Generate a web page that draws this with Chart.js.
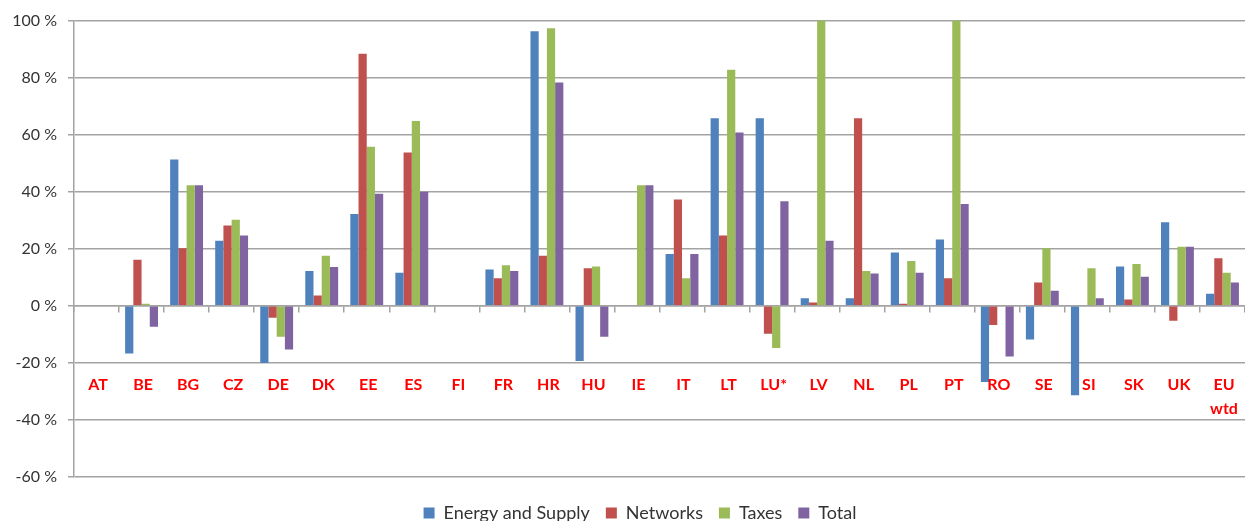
<!DOCTYPE html>
<html><head><meta charset="utf-8">
<script src="https://cdn.jsdelivr.net/npm/chart.js@4"></script>
<style>html,body{margin:0;padding:0;background:#fff;} #wrap{width:1245px;height:521px;position:relative;overflow:hidden;}</style>
</head><body><div id="wrap"><canvas id="c" width="1245" height="521"></canvas></div>
<script>
const categories = ['AT','BE','BG','CZ','DE','DK','EE','ES','FI','FR','HR','HU','IE','IT','LT','LU*','LV','NL','PL','PT','RO','SE','SI','SK','UK',['EU','wtd']];
const energySupply = [null,-16.7,51.3,22.8,-20.0,12.2,32.2,11.6,null,12.7,96.3,-19.3,null,18.2,65.8,65.8,2.7,2.7,18.7,23.3,-26.7,-11.8,-31.3,13.8,29.3,4.2];
const networks     = [null,16.2,20.2,28.2,-4.2,3.6,88.4,53.8,null,9.7,17.6,13.2,null,37.3,24.7,-9.8,1.2,65.8,0.7,9.7,-6.7,8.2,null,2.2,-5.2,16.7];
const taxes        = [null,0.7,42.3,30.2,-10.8,17.6,55.8,64.8,null,14.2,97.3,13.8,42.3,9.7,82.8,-14.8,100,12.2,15.7,100,null,20.2,13.2,14.7,20.7,11.6];
const total        = [null,-7.3,42.3,24.7,-15.3,13.6,39.3,40.0,null,12.2,78.3,-10.8,42.3,18.2,60.8,36.7,22.8,11.3,11.6,35.7,-17.8,5.3,2.7,10.2,20.7,8.2];
const seriesNames  = ['Energy and Supply','Networks','Taxes','Total'];
const yTicks = {min: -60, max: 100, step: 20};
const categoryLabelValue = -27.8;

const colors = ['#4F81BD','#C0504D','#9BBB59','#8064A2'];
const gridColor = '#a3a3a3';
const legendCenterX = 640;
const legendTextY = 513;
const legendPad = 16;
const legendFont = 18;

const categoryLabelPlugin = {
  id: 'categoryLabels',
  afterLayout(chart) {
    const lg = chart.legend;
    if (lg) {
      lg.left = 2 * legendCenterX - lg.right;
      lg.width = lg.right - lg.left;
      const h = lg.bottom - lg.top;
      lg.top = legendTextY - legendPad - legendFont / 2;
      lg.bottom = lg.top + h;
    }
  },
  afterDatasetsDraw(chart) {
    const {ctx, scales: {x, y}} = chart;
    ctx.save();
    ctx.font = 'bold 16px Lato';
    ctx.fillStyle = '#ff0000';
    ctx.textAlign = 'center';
    ctx.textBaseline = 'middle';
    const y0 = y.getPixelForValue(categoryLabelValue);
    categories.forEach((c, i) => {
      const lines = Array.isArray(c) ? c : [c];
      lines.forEach((ln, j) => ctx.fillText(ln, x.getPixelForValue(i) + 1.5, y0 + j * 24));
    });
    ctx.restore();
  }
};

function draw() {
  new Chart(document.getElementById('c'), {
    type: 'bar',
    data: {
      labels: categories,
      datasets: [energySupply, networks, taxes, total].map((d, i) => ({
        label: seriesNames[i],
        data: d,
        backgroundColor: colors[i],
        borderWidth: 0,
        categoryPercentage: 0.73,
        barPercentage: 1.0
      }))
    },
    options: {
      responsive: false,
      animation: false,
      devicePixelRatio: 1,
      layout: {padding: {top: 20, left: 0, right: -12, bottom: 0}},
      plugins: {
        tooltip: {enabled: false},
        legend: {
          position: 'bottom',
          labels: {
            boxWidth: 11, boxHeight: 11, padding: legendPad,
            color: '#333', font: {family: 'Lato', size: legendFont}
          }
        }
      },
      scales: {
        x: {
          type: 'category',
          position: {y: 0},
          offset: true,
          grid: {offset: true, drawOnChartArea: false, drawTicks: true, tickLength: 6, color: gridColor, lineWidth: 1.5},
          border: {display: true, color: gridColor, width: 1.5},
          ticks: {display: false}
        },
        y: {
          min: yTicks.min, max: yTicks.max,
          ticks: {stepSize: yTicks.step, callback: v => v + ' %', color: '#333', font: {family: 'Lato', size: 16}, padding: 11},
          grid: {color: gridColor, lineWidth: 1.5, tickLength: 6},
          border: {color: gridColor, width: 1.5},
          afterFit(s) { s.width = 74; }
        }
      }
    },
    plugins: [categoryLabelPlugin]
  });
}
(document.fonts && document.fonts.load ? Promise.all([document.fonts.load('16px Lato'), document.fonts.load('bold 16px Lato')]).catch(()=>{}) : Promise.resolve()).then(draw);
</script>
</body></html>
